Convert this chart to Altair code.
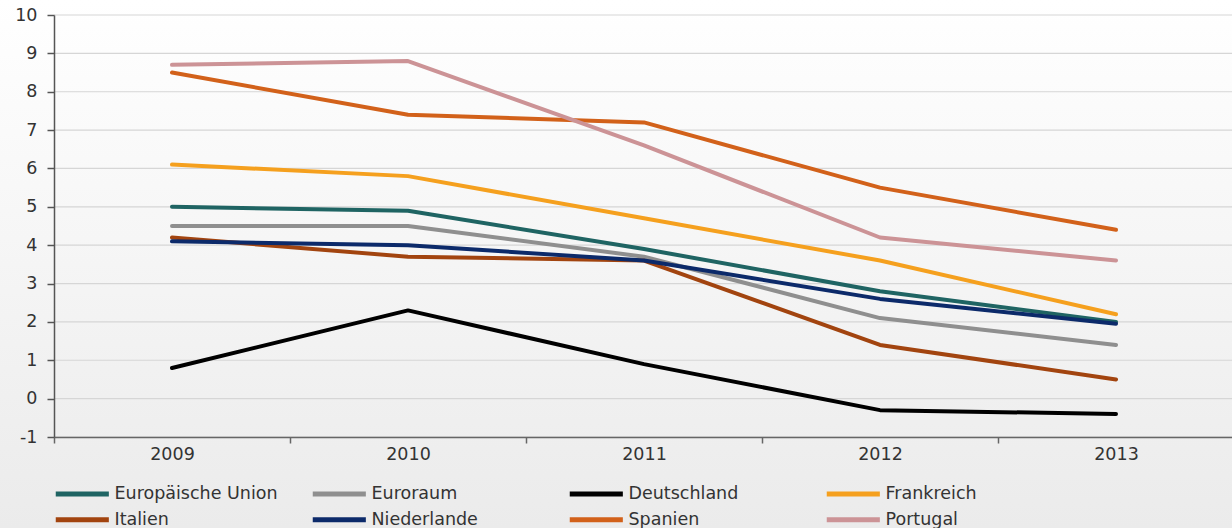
import altair as alt
import pandas as pd

years = ["2009", "2010", "2011", "2012", "2013"]

series_names = [
    "Europäische Union", "Euroraum", "Deutschland", "Frankreich",
    "Italien", "Niederlande", "Spanien", "Portugal",
]

eu = [5.0, 4.9, 3.9, 2.8, 2.0]
euroraum = [4.5, 4.5, 3.7, 2.1, 1.4]
deutschland = [0.8, 2.3, 0.9, -0.3, -0.4]
frankreich = [6.1, 5.8, 4.7, 3.6, 2.2]
italien = [4.2, 3.7, 3.6, 1.4, 0.5]
niederlande = [4.1, 4.0, 3.6, 2.6, 1.95]
spanien = [8.5, 7.4, 7.2, 5.5, 4.4]
portugal = [8.7, 8.8, 6.6, 4.2, 3.6]

series_values = [eu, euroraum, deutschland, frankreich,
                 italien, niederlande, spanien, portugal]

series_colors = ["#1f6463", "#8f8f8f", "#000000", "#f5a01e",
                 "#a2440f", "#0c2a6a", "#d2611a", "#cc9396"]

y_ticks = list(range(-1, 11))

rows = []
for order, (name, vals) in enumerate(zip(series_names, series_values)):
    for year, v in zip(years, vals):
        rows.append({"Jahr": year, "Wert": v, "Reihe": name, "ord": order})
df = pd.DataFrame(rows)
grid_df = pd.DataFrame({"Wert": y_ticks})

FONT = "DejaVu Sans"
FONT_SIZE = 17.5
TEXT_COLOR = "#333333"

y_scale = alt.Scale(domain=[-1, 10], nice=False, zero=False)
y_axis = alt.Axis(values=y_ticks, labelExpr="'' + datum.value", grid=False,
                  domainColor="#555555", domainWidth=1.5,
                  tickColor="#555555", tickWidth=1.5, tickSize=7,
                  labelPadding=10, labelFontSize=FONT_SIZE, labelFont=FONT,
                  labelColor=TEXT_COLOR, zindex=1)

# soft white-to-grey backdrop spanning the whole canvas
backdrop = alt.Chart(alt.Data(values=[{}])).mark_rect(
    fill=alt.LinearGradient(
        gradient="linear",
        stops=[alt.GradientStop(offset=0, color="#ffffff"),
               alt.GradientStop(offset=1, color="#ebebeb")],
        x1=0, x2=0, y1=0, y2=1,
    )
).encode(
    x=alt.value(-54), x2=alt.value(1180),
    y=alt.value(-15), y2=alt.value(513),
)

# horizontal gridlines at every integer value
gridlines = alt.Chart(grid_df).mark_rule(
    color="#d6d6d6", strokeWidth=1.2
).encode(
    y=alt.Y("Wert:Q", title=None, scale=y_scale, axis=y_axis),
    x=alt.value(0), x2=alt.value(1180),
)

# legend entry: a short thick dash to the left of each label
dash_path = "M-1,0H16.7"

lines = alt.Chart(df).mark_line(
    strokeWidth=4, strokeCap="round", strokeJoin="round"
).encode(
    x=alt.X("Jahr:N", sort=years, title=None,
            scale=alt.Scale(paddingInner=0, paddingOuter=0),
            axis=alt.Axis(labelAngle=0, tickBand="extent", grid=False,
                          domainColor="#666666", domainWidth=1.5,
                          tickColor="#666666", tickWidth=1.5, tickSize=6,
                          labelPadding=2, labelFontSize=FONT_SIZE,
                          labelFont=FONT, labelColor=TEXT_COLOR, zindex=1)),
    y=alt.Y("Wert:Q", title=None, scale=y_scale, axis=y_axis),
    color=alt.Color("Reihe:N", sort=series_names,
                    scale=alt.Scale(domain=series_names, range=series_colors),
                    legend=alt.Legend(
                        title=None, orient="none", legendX=-4, legendY=470,
                        direction="horizontal", columns=4, gridAlign="all",
                        symbolType=dash_path, symbolSize=36,
                        symbolStrokeWidth=5, labelFont=FONT,
                        labelFontSize=FONT_SIZE, labelColor=TEXT_COLOR,
                        labelOffset=47, columnPadding=24, rowPadding=5,
                        padding=0, labelLimit=400)),
    order=alt.Order("ord:Q"),
    detail="Reihe:N",
)

chart = alt.layer(backdrop, gridlines, lines).properties(
    width=1180, height=422,
    autosize=alt.AutoSizeParams(type="none"),
    padding={"left": 54, "top": 15, "right": -2, "bottom": 91},
).configure_view(stroke=None).configure(background="#ebebeb")

chart.save("out.html", embed_options={"renderer": "svg", "actions": False})
